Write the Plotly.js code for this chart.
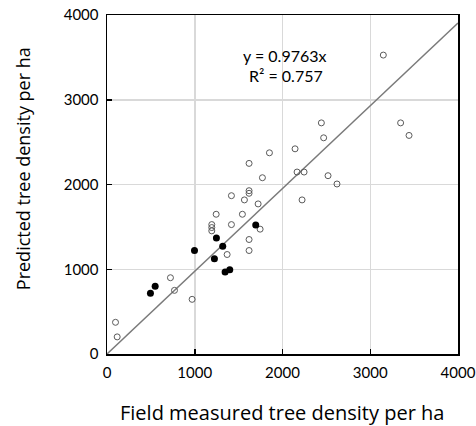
<!DOCTYPE html>
<html><head><meta charset="utf-8">
<script src="https://cdn.plot.ly/plotly-3.0.1.min.js"></script>
<style>html,body{margin:0;padding:0;background:#fff}#chart{width:476px;height:426px}</style>
</head><body><div id="chart"></div>
<script>
const openX = [97,116,723,769,970,1194,1194,1194,1244,1369,1418,1418,1543,1566,1619,1619,1619,1619,1619,1722,1745,1771,1851,2143,2166,2223,2246,2443,2469,2519,2621,3149,3346,3442];
const openY = [374,202,900,751,645,1453,1492,1527,1649,1174,1868,1527,1649,1818,1896,1927,1351,1221,2249,1771,1473,2080,2374,2421,2147,1818,2147,2727,2551,2104,2006,3527,2727,2579];
const filledX = [495,549,997,1247,1319,1224,1346,1399,1695];
const filledY = [716,798,1221,1370,1272,1123,967,994,1523];
const slope = 0.9763;
const r2 = 0.757;
const lineX = [0, 4000];
const tickVals = [0,1000,2000,3000,4000];

const FONT = 'Lato, "Open Sans", sans-serif';
const TFONT = '"Open Sans", sans-serif';
const traces = [
  {x: lineX, y: lineX.map(v => v*slope), mode:'lines', line:{color:'#7a7a7a', width:1.5}, hoverinfo:'skip'},
  {x: openX, y: openY, mode:'markers', marker:{symbol:'circle-open', size:6, color:'#5a5a5a', line:{width:1}}},
  {x: filledX, y: filledY, mode:'markers', marker:{symbol:'circle', size:7, color:'#000'}}
];
const axisBase = {range:[0,4000], tickvals:tickVals, showgrid:true, gridcolor:'#d9d9d9', gridwidth:1.5,
  zeroline:false, showline:true, linecolor:'#000', linewidth:1.5, mirror:true,
  ticks:'inside', ticklen:5, tickcolor:'#000', tickwidth:1.5,
  tickfont:{family:FONT, size:15, color:'#000'}, fixedrange:true};
const layout = {
  width:476, height:426, showlegend:false,
  paper_bgcolor:'#fff', plot_bgcolor:'#fff',
  margin:{l:106.5, r:18, t:14.5, b:71.5},
  xaxis: Object.assign({}, axisBase, {ticklabelstandoff:4}),
  yaxis: Object.assign({}, axisBase, {ticklabelstandoff:4}),
  annotations:[
    {text:'y = ' + slope + 'x', xref:'paper', yref:'paper', x:(285-106.5)/351.5, y:(354.5-55)/340, showarrow:false, xanchor:'center', yanchor:'middle', font:{family:FONT, size:16, color:'#000'}},
    {text:'R² = ' + r2, xref:'paper', yref:'paper', x:(286-106.5)/351.5, y:(354.5-75)/340, showarrow:false, xanchor:'center', yanchor:'middle', font:{family:FONT, size:16, color:'#000'}},
    {text:'Field measured tree density per ha', xref:'paper', yref:'paper', x:(281.5-106.5)/351.5, y:(354.5-413)/340, showarrow:false, xanchor:'center', yanchor:'middle', font:{family:TFONT, size:20, color:'#000'}},
    {text:'Predicted tree density per ha', xref:'paper', yref:'paper', x:(22-106.5)/351.5, y:(354.5-168.5)/340, showarrow:false, xanchor:'center', yanchor:'middle', textangle:-90, font:{family:TFONT, size:18, color:'#000'}}
  ]
};
Plotly.newPlot('chart', traces, layout, {displayModeBar:false, staticPlot:true});
</script></body></html>
